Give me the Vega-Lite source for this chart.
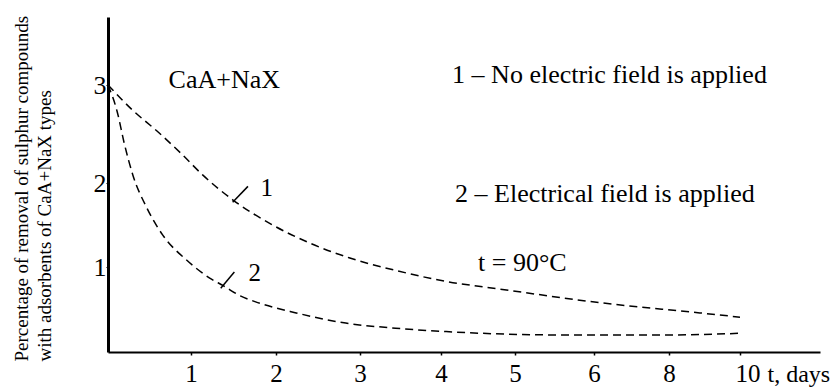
{
  "$schema": "https://vega.github.io/schema/vega-lite/v6.json",
  "autosize": "none",
  "width": 712,
  "height": 335,
  "padding": {"left": 108, "top": 17, "right": 16, "bottom": 35},
  "background": "white",
  "config": {
    "view": {"stroke": null},
    "font": "Liberation Serif",
    "axis": {"grid": false, "domainColor": "black", "tickColor": "black", "labelColor": "black", "titleColor": "black", "labelFont": "Liberation Serif", "titleFont": "Liberation Serif", "titleFontWeight": "normal"}
  },
  "datasets": {
    "curves": [
      {"curve": "1", "t": 0, "v": 3.0},
      {"curve": "1", "t": 0.3, "v": 2.74},
      {"curve": "1", "t": 0.59, "v": 2.53},
      {"curve": "1", "t": 0.87, "v": 2.31},
      {"curve": "1", "t": 1.14, "v": 2.08},
      {"curve": "1", "t": 1.49, "v": 1.80},
      {"curve": "1", "t": 1.96, "v": 1.50},
      {"curve": "1", "t": 2.39, "v": 1.29},
      {"curve": "1", "t": 2.87, "v": 1.11},
      {"curve": "1", "t": 3.44, "v": 0.96},
      {"curve": "1", "t": 4.07, "v": 0.83},
      {"curve": "1", "t": 4.8, "v": 0.74},
      {"curve": "1", "t": 6.16, "v": 0.58},
      {"curve": "1", "t": 8.87, "v": 0.46},
      {"curve": "1", "t": 10, "v": 0.41},
      {"curve": "2", "t": 0, "v": 3.0},
      {"curve": "2", "t": 0.11, "v": 2.73},
      {"curve": "2", "t": 0.2, "v": 2.39},
      {"curve": "2", "t": 0.3, "v": 2.08},
      {"curve": "2", "t": 0.47, "v": 1.70},
      {"curve": "2", "t": 0.66, "v": 1.38},
      {"curve": "2", "t": 0.95, "v": 1.08},
      {"curve": "2", "t": 1.22, "v": 0.87},
      {"curve": "2", "t": 1.38, "v": 0.78},
      {"curve": "2", "t": 1.58, "v": 0.66},
      {"curve": "2", "t": 1.76, "v": 0.59},
      {"curve": "2", "t": 2.24, "v": 0.46},
      {"curve": "2", "t": 2.83, "v": 0.34},
      {"curve": "2", "t": 3.44, "v": 0.28},
      {"curve": "2", "t": 4.07, "v": 0.24},
      {"curve": "2", "t": 5.67, "v": 0.2},
      {"curve": "2", "t": 8, "v": 0.2},
      {"curve": "2", "t": 10, "v": 0.22}
    ],
    "leaders": [
      {"t": 1.49, "v": 1.77, "t2": 1.67, "v2": 1.96, "label": "1", "lt": 1.89, "lv": 1.94},
      {"t": 1.35, "v": 0.75, "t2": 1.51, "v2": 0.94, "label": "2", "lt": 1.75, "lv": 0.93}
    ],
    "notes": [
      {"t": 0.73, "v": 2.97, "text": "CaA+NaX"},
      {"t": 4.15, "v": 3.02, "text": "1 – No electric field is applied"},
      {"t": 4.19, "v": 1.77, "text": "2 – Electrical field is applied"},
      {"t": 4.5, "v": 0.95, "text": "t = 90°C"}
    ]
  },
  "layer": [
    {
      "data": {"name": "curves"},
      "mark": {"type": "line", "color": "black", "strokeWidth": 1.5, "strokeDash": [8, 5], "interpolate": "monotone"},
      "encoding": {
        "x": {
          "field": "t", "type": "quantitative", "title": "t, days",
          "scale": {"domain": [0, 1, 2, 3, 4, 5, 6, 8, 10, 12], "range": [0, 83, 168, 252, 333, 407, 486, 561, 632, 712], "nice": false, "zero": false},
          "axis": {
            "values": [1, 2, 3, 4, 5, 6, 8, 10], "format": "d",
            "domainWidth": 2, "tickSize": 3, "tickWidth": 1.5,
            "labelFontSize": 25, "labelBaseline": "bottom", "labelPadding": 31, "labelFlush": false,
            "labelAlign": {"condition": {"test": "datum.value == 10", "value": "left"}, "value": "center"},
            "labelOffset": {"condition": {"test": "datum.value == 10", "value": -5}, "value": 0},
            "titleFontSize": 24, "titleAlign": "left", "titleBaseline": "bottom",
            "titleX": 659, "titleY": 34
          }
        },
        "y": {
          "field": "v", "type": "quantitative", "title": ["Percentage of removal of sulphur compounds", "with adsorbents of CaA+NaX types"],
          "scale": {"domain": [0, 1, 2, 3, 3.8], "range": [335, 250, 166, 68, 0], "nice": false, "zero": false},
          "axis": {
            "values": [1, 2, 3], "format": "d",
            "domainWidth": 3, "tickSize": 2, "tickWidth": 1,
            "labelFontSize": 26, "labelPadding": 0, "labelBaseline": "middle",
            "titleFontSize": 19, "titleLineHeight": 23, "titleAngle": 270, "titleAlign": "left", "titleBaseline": "alphabetic",
            "titleX": -81, "titleY": 344
          }
        },
        "detail": {"field": "curve"}
      }
    },
    {
      "data": {"name": "leaders"},
      "mark": {"type": "rule", "color": "black", "strokeWidth": 1.5},
      "encoding": {
        "x": {"field": "t", "type": "quantitative", "title": "t, days"},
        "y": {"field": "v", "type": "quantitative", "title": ["Percentage of removal of sulphur compounds", "with adsorbents of CaA+NaX types"]},
        "x2": {"field": "t2"},
        "y2": {"field": "v2"}
      }
    },
    {
      "data": {"name": "leaders"},
      "mark": {"type": "text", "color": "black", "fontSize": 25, "font": "Liberation Serif", "align": "center", "baseline": "middle"},
      "encoding": {
        "x": {"field": "lt", "type": "quantitative", "title": "t, days"},
        "y": {"field": "lv", "type": "quantitative", "title": ["Percentage of removal of sulphur compounds", "with adsorbents of CaA+NaX types"]},
        "text": {"field": "label"}
      }
    },
    {
      "data": {"name": "notes"},
      "mark": {"type": "text", "color": "black", "fontSize": 26, "font": "Liberation Serif", "align": "left", "baseline": "alphabetic"},
      "encoding": {
        "x": {"field": "t", "type": "quantitative", "title": "t, days"},
        "y": {"field": "v", "type": "quantitative", "title": ["Percentage of removal of sulphur compounds", "with adsorbents of CaA+NaX types"]},
        "text": {"field": "text"}
      }
    }
  ]
}
